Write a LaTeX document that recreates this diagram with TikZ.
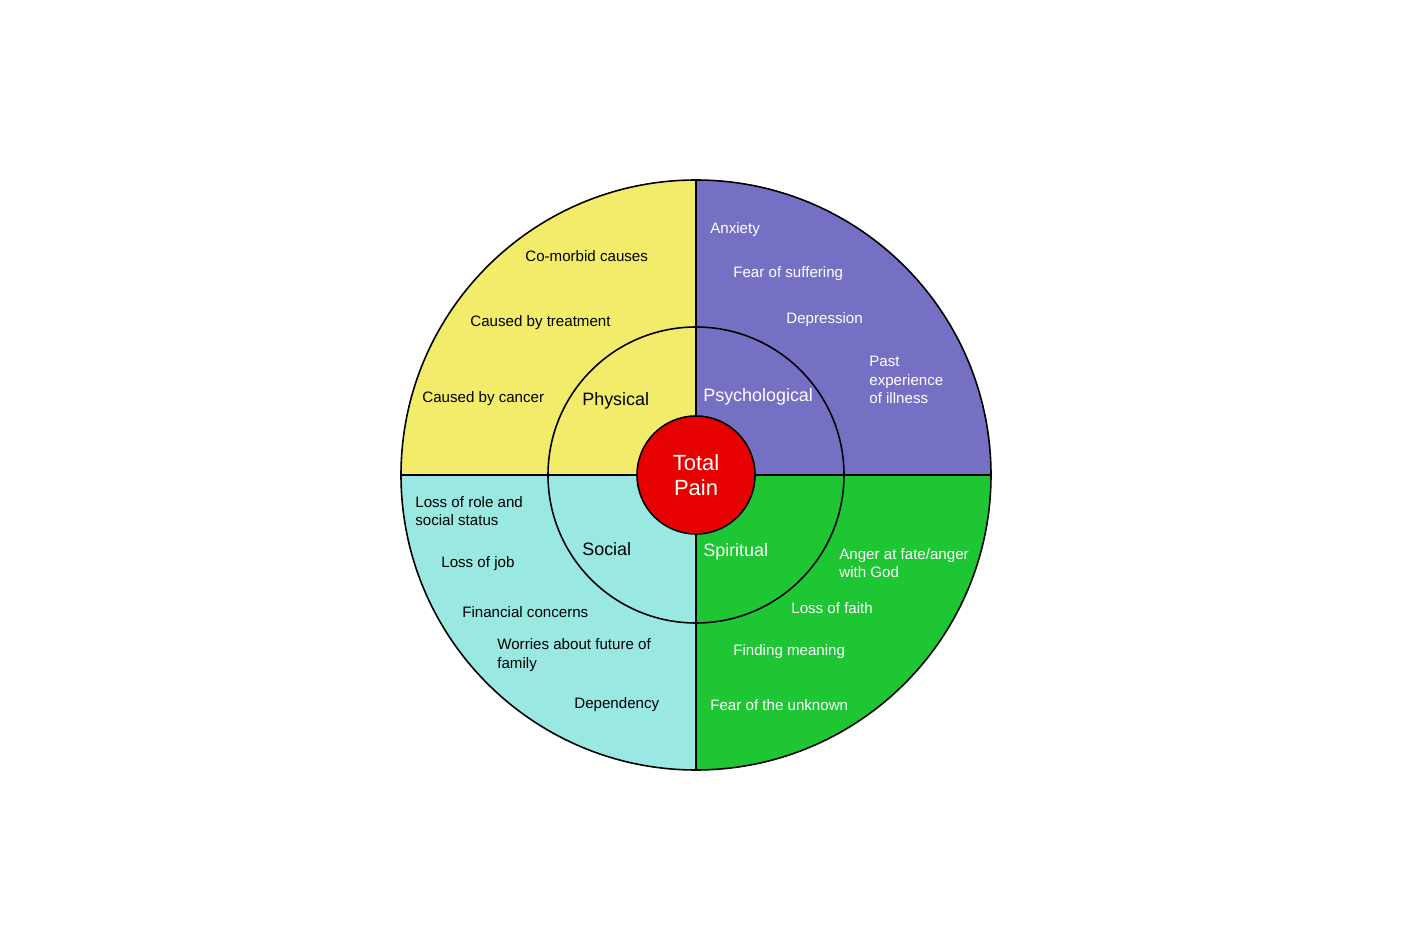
\documentclass[tikz,border=0pt]{standalone}
\usepackage{fontspec}
\setmainfont{Liberation Sans}
\definecolor{cy}{HTML}{F2EC6A}
\definecolor{cp}{HTML}{7570C4}
\definecolor{cc}{HTML}{99E8E2}
\definecolor{cg}{HTML}{1DC632}
\definecolor{cr}{HTML}{E60000}
\begin{document}
\begin{tikzpicture}[x=0.02cm,y=-0.02cm,
  lab/.style={anchor=west,align=left,font=\fontsize{8.6}{10.4}\selectfont,inner sep=0pt},
  wl/.style={lab,text=white},
  big/.style={anchor=west,font=\fontsize{10.2}{12}\selectfont,inner sep=0pt},
  line/.style={draw=black,line width=0.9pt}]
\useasboundingbox (0,0) rectangle (1401,949);
\coordinate (c) at (696,475);
\fill[cy] (c) -- ++(-295,0) arc[start angle=180,end angle=270,radius=295] -- cycle;
\fill[cp] (c) -- ++(0,-295) arc[start angle=270,end angle=360,radius=295] -- cycle;
\fill[cg] (c) -- ++(295,0) arc[start angle=0,end angle=90,radius=295] -- cycle;
\fill[cc] (c) -- ++(0,295) arc[start angle=90,end angle=180,radius=295] -- cycle;
\draw[line] (c) circle[radius=295];
\draw[line] (c) circle[radius=148];
\draw[line] (401,475) -- (991,475);
\draw[line] (696,180) -- (696,770);
\node[circle,fill=cr,draw=black,line width=0.9pt,minimum size=118*0.02cm,inner sep=0pt,align=center,text=white,font=\fontsize{12.5}{14}\selectfont] (tp) at (c) {Total\\Pain};
\node[big] (ph) at (582,401) {Physical};
\node[big,text=white] (ps) at (703,397) {Psychological};
\node[big] (so) at (582,549) {Social};
\node[big,text=white] (sp) at (703,552) {Spiritual};
\node[lab] (a1) at (525,256) {Co-morbid causes};
\node[lab] (a2) at (470,323) {Caused by treatment};
\node[lab] (a3) at (422,399) {Caused by cancer};
\node[wl] (b1) at (710,230) {Anxiety};
\node[wl] (b2) at (733,274) {Fear of suffering};
\node[wl] (b3) at (786,320) {Depression};
\node[wl] (b4) at (869,380) {Past\\experience\\of illness};
\node[lab] (d1) at (415,511) {Loss of role and\\social status};
\node[lab] (d2) at (441,564) {Loss of job};
\node[lab] (d3) at (462,612) {Financial concerns};
\node[lab] (d4) at (497,655) {Worries about future of\\family};
\node[lab] (d5) at (574,705) {Dependency};
\node[wl] (e1) at (839,563) {Anger at fate/anger\\with God};
\node[wl] (e2) at (791,608) {Loss of faith};
\node[wl] (e3) at (733,652) {Finding meaning};
\node[wl] (e4) at (710,705) {Fear of the unknown};
\end{tikzpicture}
\end{document}
